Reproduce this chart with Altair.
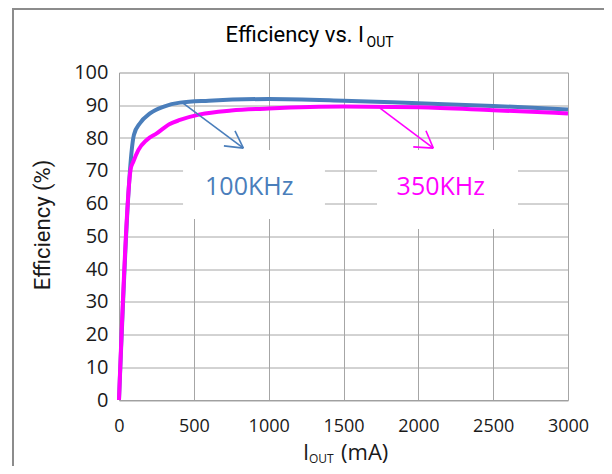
import altair as alt
import pandas as pd

# ---- data ----
iout_100 = [0, 100, 140, 207, 300, 407, 600, 1000, 1500, 2000, 2500, 3000]
eff_100 = [0, 81, 84.5, 87.5, 89.6, 90.8, 91.4, 91.9, 91.4, 90.6, 89.8, 88.7]
iout_350 = [0, 78, 96, 129, 185, 252, 336, 407, 541, 750, 1000, 1500, 2000, 2500, 3000]
eff_350 = [0, 70.5, 72.8, 76.3, 79.4, 81.4, 84.2, 85.5, 87.2, 88.4, 89.0, 89.6, 89.4, 88.5, 87.5]

x_ticks = [0, 500, 1000, 1500, 2000, 2500, 3000]
y_ticks = [0, 10, 20, 30, 40, 50, 60, 70, 80, 90, 100]

series_names = ["100KHz", "350KHz"]
line_colors = ["#4a7ebb", "#ff00ff"]
label_colors = ["#558ed5", "#ff00ff"]

# annotation labels (data coordinates)
label_x = [870, 2150]
label_y = [62.6, 62.6]

# white boxes behind the labels
box_x1 = [428, 1724]
box_x2 = [1376, 2666]
box_y1 = [55.3, 52.2]
box_y2 = [76.3, 76.3]

# arrows: shaft start, tip and the two wing ends
arrow_start_x = [430, 1744]
arrow_start_y = [90.6, 89.1]
arrow_tip_x = [831, 2100]
arrow_tip_y = [76.9, 76.9]
wing1_x = [701, 1966]
wing1_y = [77.6, 77.3]
wing2_x = [775, 2051]
wing2_y = [82.2, 82.2]

# ---- build tables ----
df100 = pd.DataFrame({"x": iout_100, "y": eff_100, "s": series_names[0]})
df350 = pd.DataFrame({"x": iout_350, "y": eff_350, "s": series_names[1]})

boxes = pd.DataFrame({"x": box_x1, "x2": box_x2, "y": box_y1, "y2": box_y2})

seg_rows = []
for i, name in enumerate(series_names):
    for sx, sy in [(arrow_start_x[i], arrow_start_y[i]), (wing1_x[i], wing1_y[i]), (wing2_x[i], wing2_y[i])]:
        seg_rows.append({"x": sx, "y": sy, "x2": arrow_tip_x[i], "y2": arrow_tip_y[i], "s": name})
arrows = pd.DataFrame(seg_rows)

labels = pd.DataFrame({"x": label_x, "y": label_y, "s": series_names})

xs = alt.Scale(domain=[0, 3000], nice=False, zero=False)
ys = alt.Scale(domain=[0, 100], nice=False, zero=False)

x_axis = alt.Axis(values=x_ticks, format="d", grid=True, ticks=False, tickSize=0, labelPadding=17,
                  labelFont="Open Sans", labelFontSize=18, labelColor="#1a1a1a",
                  domainColor="#a0a0a0", gridColor="#a6a6a6", labelFlush=False)
y_axis = alt.Axis(values=y_ticks, format="d", grid=True, ticks=False, tickSize=0, labelPadding=11,
                  labelFont="Open Sans", labelFontSize=20, labelColor="#1a1a1a",
                  domainColor="#a0a0a0", gridColor="#a6a6a6", labelFlush=False)

X = alt.X("x:Q", scale=xs, axis=x_axis, title=None)
Y = alt.Y("y:Q", scale=ys, axis=y_axis, title=None)

color_lines = alt.Color("s:N", scale=alt.Scale(domain=series_names, range=line_colors), legend=None)

box_layer = alt.Chart(boxes).mark_rect(color="white").encode(x=X, x2="x2:Q", y=Y, y2="y2:Q")

line100 = alt.Chart(df100).mark_line(strokeWidth=4, interpolate="monotone", color=line_colors[0]).encode(x=X, y=Y)
line350 = alt.Chart(df350).mark_line(strokeWidth=4, interpolate="monotone", color=line_colors[1]).encode(x=X, y=Y)

arrow_layer = alt.Chart(arrows).mark_rule(strokeWidth=1.6).encode(
    x=X, y=Y, x2="x2:Q", y2="y2:Q", color=color_lines)

label_layer = alt.Chart(labels).mark_text(font="Open Sans", fontSize=25, align="center",
                                          baseline="alphabetic").encode(
    x=X, y=Y, text="s:N",
    color=alt.Color("s:N", scale=alt.Scale(domain=series_names, range=label_colors), legend=None))

# ---- titles (plot-relative pixel placement) ----
def txt(s, x, y, size, font, align="left", angle=0, color="#000000", baseline="alphabetic"):
    kw = dict(font=font, fontSize=size, align=align, baseline=baseline, color=color)
    if angle:
        kw["angle"] = angle
    return alt.Chart(pd.DataFrame({"t": [s]})).mark_text(**kw).encode(
        text="t:N", x=alt.value(x), y=alt.value(y))

narrow = "Roboto"
title_main = txt("Efficiency vs. I", 245, -30.8, 22, narrow, align="right")
title_sub = txt("OUT", 247.5, -25.8, 14, narrow)

xt_main = txt("I", 184, 387.5, 22, "Open Sans", color="#1a1a1a")
xt_sub = txt("OUT", 190, 390.5, 12, "Open Sans", color="#1a1a1a")
xt_rest = txt("(mA)", 269.3, 387.5, 22, "Open Sans", align="right", color="#1a1a1a")

yt = txt("Efficiency (%)", -76, 152.5, 22, narrow, align="center", angle=270,
         color="#1a1a1a", baseline="middle")

# outer frame of the chart
frame_left = alt.Chart(pd.DataFrame({"a": [0]})).mark_rule(color="#8c8c8c", strokeWidth=2).encode(
    x=alt.value(-106), y=alt.value(-64.5), y2=alt.value(394))
frame_top = alt.Chart(pd.DataFrame({"a": [0]})).mark_rule(color="#8c8c8c", strokeWidth=2).encode(
    x=alt.value(-107), x2=alt.value(490), y=alt.value(-63.5))

chart = alt.layer(
    box_layer, line100, line350, arrow_layer, label_layer,
    title_main, title_sub, xt_main, xt_sub, xt_rest, yt, frame_left, frame_top
).properties(
    width=449, height=327.5,
    autosize=alt.AutoSizeParams(type="none"),
    padding={"left": 111, "top": 64.5, "right": 36, "bottom": 66},
).configure_view(stroke="#a0a0a0", strokeWidth=1).configure(background="white")

chart.save("out.html", embed_options={"renderer": "svg", "actions": False})
